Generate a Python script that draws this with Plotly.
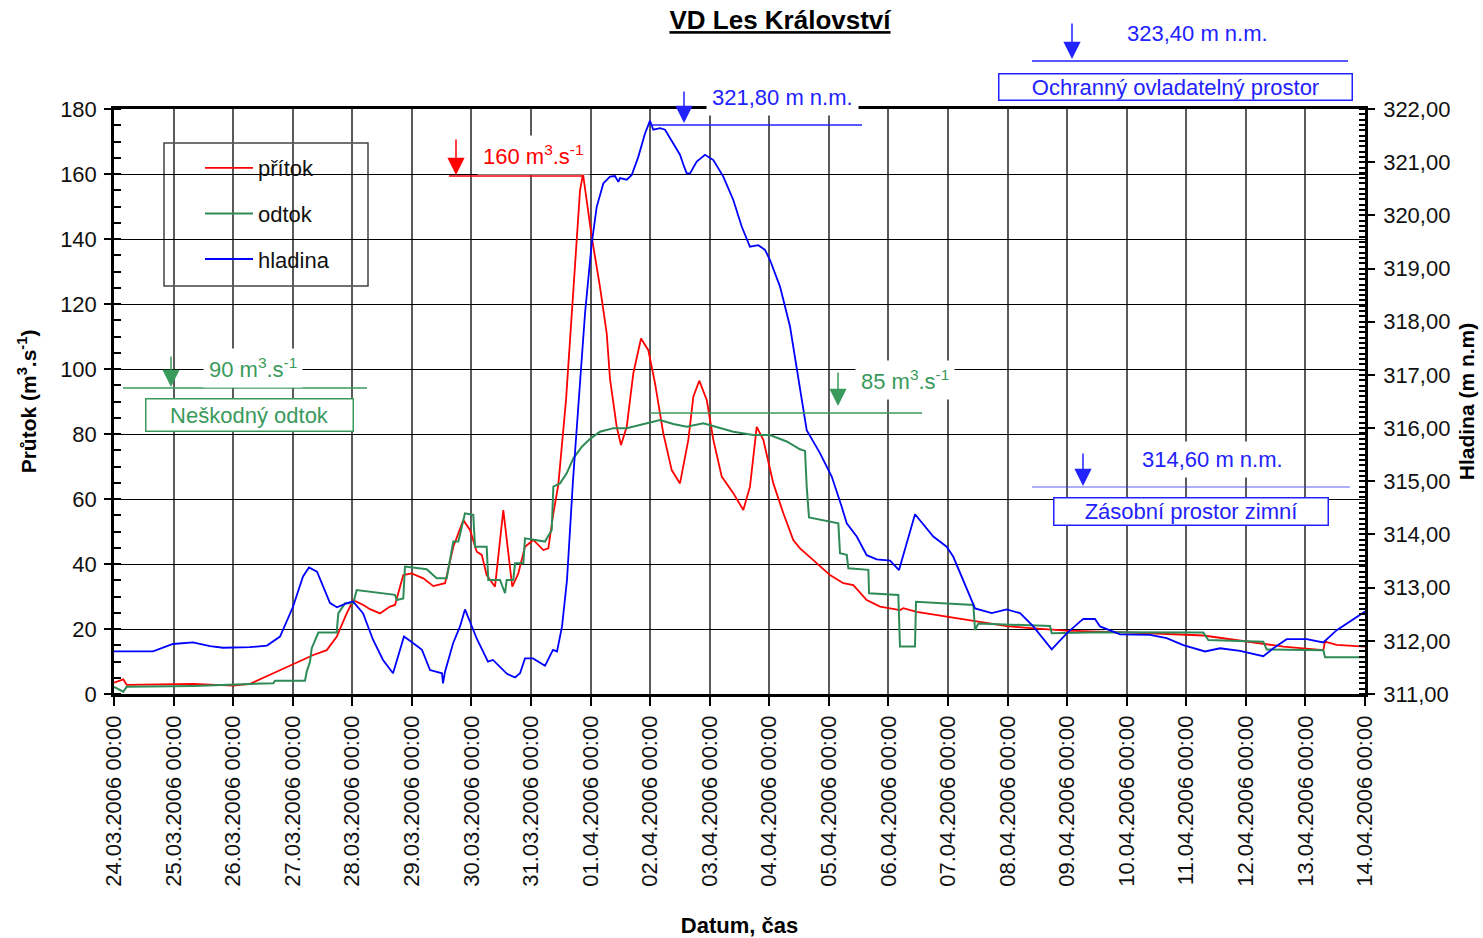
import pandas as pd
import plotly.graph_objects as go

# ---------------- data ----------------
START = pd.Timestamp("2006-03-24 00:00")
END = pd.Timestamp("2006-04-14 00:00")

# přítok (inflow) [m3/s]; time as days since START
pritok_t = [0.0, 0.156, 0.213, 0.885, 1.326, 1.998, 2.283, 2.674, 3.01, 3.346, 3.571, 3.738,
            3.906, 4.017, 4.185, 4.297, 4.465, 4.633, 4.717, 4.856, 4.997, 5.192, 5.36, 5.557,
            5.696, 5.864, 5.976, 6.089, 6.173, 6.256, 6.396, 6.535, 6.686, 6.787, 6.899, 7.039,
            7.207, 7.291, 7.375, 7.458, 7.588, 7.739, 7.823, 7.873, 8.019, 8.158, 8.271, 8.326,
            8.439, 8.511, 8.607, 8.718, 8.847, 8.969, 9.082, 9.221, 9.362, 9.501, 9.641, 9.725,
            9.825, 9.95, 10.061, 10.202, 10.396, 10.564, 10.676, 10.789, 10.9, 11.068, 11.236,
            11.403, 11.516, 11.739, 12.019, 12.243, 12.411, 12.635, 12.859, 13.194, 13.25,
            13.475, 14.034, 14.482, 14.986, 15.432, 15.993, 16.552, 17.111, 17.391, 18.286,
            19.07, 19.629, 20.3, 20.329, 20.525, 20.748, 21.0]
pritok_q = [3.5, 4.5, 2.8, 3.1, 3.1, 2.6, 3.1, 6.4, 9.1, 12.0, 13.5, 17.6,
            24.8, 28.9, 27.4, 26.1, 24.8, 26.9, 27.4, 36.6, 37.1, 35.6, 33.2, 34.1,
            45.3, 53.5, 50.5, 43.8, 42.8, 36.6, 33.0, 56.6, 33.0, 37.1, 45.3, 47.4,
            44.3, 44.8, 55.6, 64.3, 90.5, 133.5, 155.0, 160.0, 140.7, 125.3, 111.0, 97.0,
            82.2, 76.6, 82.2, 98.7, 109.4, 105.8, 95.6, 80.2, 68.9, 64.8, 78.2, 91.5,
            96.4, 90.5, 78.2, 66.9, 61.8, 56.6, 63.8, 82.2, 78.2, 64.8, 55.6,
            47.4, 44.8, 41.2, 36.6, 34.1, 33.5, 28.9, 26.9, 25.8, 26.4,
            25.3, 23.6, 22.2, 20.9, 20.2, 19.5, 19.2, 18.9, 18.7, 18.0,
            16.1, 14.6, 13.5, 16.1, 15.1, 14.8, 14.6]

# odtok (outflow) [m3/s]
odtok_t = [0.0, 0.156, 0.213, 1.331, 2.283, 2.674, 2.703, 3.206, 3.235, 3.29, 3.319, 3.43,
           3.738, 3.765, 3.877, 4.017, 4.074, 4.717, 4.746, 4.856, 4.885, 5.249, 5.417, 5.585,
           5.696, 5.78, 5.892, 6.031, 6.06, 6.256, 6.283, 6.48, 6.564, 6.592, 6.703, 6.732,
           6.871, 6.899, 7.235, 7.348, 7.375, 7.487, 7.599, 7.711, 7.851, 7.991, 8.158, 8.382,
           8.607, 8.83, 9.053, 9.166, 9.389, 9.614, 9.893, 10.117, 10.396, 10.732, 11.012,
           11.292, 11.516, 11.6, 11.628, 11.667, 12.159, 12.187, 12.3, 12.327, 12.663, 12.675,
           13.166, 13.194, 13.446, 13.463, 14.425, 14.454, 14.509, 15.713, 15.741, 16.552,
           17.391, 18.286, 18.37, 19.293, 19.35, 20.3, 20.329, 21.0]
odtok_q = [2.2, 0.7, 2.2, 2.5, 3.1, 3.3, 4.1, 4.1, 6.9, 9.9, 14.1, 18.9,
           18.9, 24.8, 27.9, 27.9, 32.0, 30.5, 28.9, 29.4, 39.2, 38.4, 35.6, 35.6,
           46.9, 46.9, 55.6, 55.1, 45.3, 45.3, 35.1, 35.1, 31.0, 35.1, 35.1, 40.2,
           40.2, 47.9, 46.9, 50.5, 63.8, 64.8, 67.9, 72.5, 76.0, 78.5, 80.7, 81.8,
           81.8, 82.8, 83.8, 84.3, 83.1, 82.2, 83.3, 82.2, 80.7, 79.7, 79.7,
           77.7, 75.3, 74.8, 63.8, 54.3, 52.5, 43.3, 42.8, 38.7, 38.2, 31.0,
           30.5, 14.6, 14.6, 28.4, 27.4, 19.7, 21.7, 20.9, 18.7, 19.0,
           19.0, 18.9, 16.6, 16.1, 13.7, 13.5, 11.3, 11.3]

# hladina (water level) [m n.m.]
hladina_t = [0.0, 0.655, 0.99, 1.326, 1.612, 1.83, 2.283, 2.568, 2.787, 3.005, 3.173, 3.273,
             3.408, 3.626, 3.743, 3.911, 4.012, 4.18, 4.348, 4.516, 4.684, 4.868, 5.019, 5.17,
             5.305, 5.506, 5.523, 5.557, 5.691, 5.808, 5.892, 6.01, 6.094, 6.278, 6.362, 6.597,
             6.732, 6.816, 6.899, 7.034, 7.235, 7.369, 7.437, 7.521, 7.604, 7.705, 7.823, 7.907,
             8.019, 8.103, 8.214, 8.326, 8.41, 8.466, 8.494, 8.607, 8.691, 8.801, 8.914, 8.998,
             9.053, 9.166, 9.25, 9.389, 9.501, 9.569, 9.614, 9.669, 9.782, 9.921, 10.061, 10.228,
             10.396, 10.537, 10.676, 10.816, 10.928, 11.012, 11.18, 11.348, 11.487, 11.628,
             11.851, 12.048, 12.216, 12.3, 12.468, 12.635, 12.803, 13.027, 13.178, 13.446,
             13.753, 13.978, 14.089, 14.257, 14.454, 14.734, 14.986, 15.209, 15.432, 15.741,
             15.993, 16.216, 16.271, 16.468, 16.552, 16.888, 17.391, 17.671, 17.95, 18.315,
             18.566, 18.902, 19.293, 19.461, 19.686, 20.022, 20.3, 20.525, 21.0]
hladina_h = [311.80, 311.80, 311.94, 311.97, 311.90, 311.87, 311.88, 311.91, 312.08, 312.64, 313.21, 313.38,
             313.30, 312.71, 312.63, 312.71, 312.74, 312.52, 312.02, 311.64, 311.39, 312.08, 311.96, 311.83,
             311.45, 311.39, 311.20, 311.42, 311.95, 312.27, 312.59, 312.27, 312.03, 311.61, 311.64, 311.38,
             311.31, 311.39, 311.67, 311.67, 311.53, 311.83, 311.80, 312.27, 313.14, 315.02, 316.90, 318.16,
             319.47, 320.16, 320.60, 320.73, 320.74, 320.63, 320.70, 320.67, 320.76, 321.10, 321.54, 321.78,
             321.61, 321.64, 321.61, 321.36, 321.14, 320.92, 320.79, 320.79, 321.01, 321.14, 321.04, 320.73,
             320.29, 319.79, 319.41, 319.44, 319.35, 319.16, 318.66, 317.91, 316.97, 315.96,
             315.53, 315.09, 314.52, 314.21, 313.96, 313.61, 313.53, 313.51, 313.33, 314.38,
             313.96, 313.77, 313.58, 313.14, 312.61, 312.52, 312.59, 312.52, 312.27, 311.84,
             312.14, 312.36, 312.41, 312.41, 312.27, 312.12, 312.11, 312.05, 311.92, 311.80,
             311.86, 311.81, 311.71, 311.86, 312.03, 312.03, 311.97, 312.20, 312.55]

series_names = ["přítok", "odtok", "hladina"]
series_colors = ["#ff0000", "#2e8b57", "#0000ff"]

# ---------------- styling ----------------
FONT = "Liberation Sans, Arial, sans-serif"
FS = 22
W, H = 1483, 938
ML, MR, MT, MB = 114, 118, 109, 244
PW, PH = W - ML - MR, H - MT - MB

def px(x):  # pixel -> paper x
    return (x - ML) / PW

def py(y):  # pixel -> paper y
    return (H - MB - y) / PH

def to_dates(days):
    return START + pd.to_timedelta(pd.Series(days), unit="D")

fig = go.Figure()
fig.add_trace(go.Scatter(x=to_dates(pritok_t), y=pritok_q, name=series_names[0], mode="lines",
                         line=dict(color=series_colors[0], width=1.8), legendgroup="a"))
fig.add_trace(go.Scatter(x=to_dates(odtok_t), y=odtok_q, name=series_names[1], mode="lines",
                         line=dict(color=series_colors[1], width=2.0), legendgroup="b"))
fig.add_trace(go.Scatter(x=to_dates(hladina_t), y=hladina_h, name=series_names[2], mode="lines",
                         line=dict(color=series_colors[2], width=1.8), yaxis="y2", legendgroup="c"))

RED, GREEN, BLUE, LBLUE = "#ff0000", "#3a9a5c", "#2222ff", "rgba(60,60,255,0.55)"

shapes = []
annotations = []

def hline(x0, x1, y, color, width=1.5):
    shapes.append(dict(type="line", xref="paper", yref="paper", x0=px(x0), x1=px(x1),
                       y0=py(y), y1=py(y), line=dict(color=color, width=width)))

def arrow(x, ytip, ytail, color):
    annotations.append(dict(xref="paper", yref="paper", x=px(x), y=py(ytip), text="",
                            showarrow=True, ax=0, ay=-(ytip - ytail), arrowhead=2,
                            arrowsize=2.3, arrowwidth=1.5, arrowcolor=color, standoff=0))

def label(x, y, text, color, bg=True):
    annotations.append(dict(xref="paper", yref="paper", x=px(x), y=py(y), text=text,
                            showarrow=False, font=dict(size=FS, color=color, family=FONT),
                            bgcolor="white" if bg else None, borderpad=5,
                            xanchor="center", yanchor="middle"))

def boxlabel(x0, y0, x1, y1, text, color):
    annotations.append(dict(xref="paper", yref="paper", x=px((x0 + x1) / 2), y=py((y0 + y1) / 2),
                            text=text, showarrow=False, font=dict(size=FS, color=color, family=FONT),
                            bgcolor="white", bordercolor=color, borderwidth=1.5, borderpad=0,
                            width=x1 - x0 - 3, height=y1 - y0 - 3,
                            xanchor="center", yanchor="middle"))

SUP = "m<sup>3</sup>.s<sup>-1</sup>"

# 160 m3/s peak inflow
hline(449, 583, 176, RED)
label(533, 155, "160 " + SUP, RED)
arrow(456, 175, 138, RED)

# 321,80 max level
hline(650, 862, 125, BLUE)
label(782, 97, "321,80 m n.m.", BLUE)
arrow(684, 123, 90, BLUE)

# 323,40 top of flood control
hline(1032, 1348, 61, BLUE)
label(1197, 33, "323,40 m n.m.", BLUE, bg=False)
arrow(1072, 59, 22, BLUE)
boxlabel(998, 73, 1353, 101, "Ochranný ovladatelný prostor", BLUE)

# 90 m3/s harmless outflow
hline(123, 367, 388, GREEN)
label(253, 368, "90 " + SUP, GREEN)
arrow(171, 387, 355, GREEN)
boxlabel(145, 398, 354, 432, "Neškodný odtok", GREEN)

# 85 m3/s max outflow
hline(650, 922, 413, GREEN)
label(905, 380, "85 " + SUP, GREEN)
arrow(838, 406, 371, GREEN)

# 314,60 winter storage
hline(1032, 1350, 487, LBLUE)
label(1212, 459, "314,60 m n.m.", BLUE)
arrow(1083, 486, 452, BLUE)
boxlabel(1053, 497, 1329, 526, "Zásobní prostor zimní", BLUE)

# legend frame
shapes.append(dict(type="rect", xref="paper", yref="paper", x0=px(164), x1=px(368),
                   y0=py(286), y1=py(143), line=dict(color="#444444", width=1.5),
                   fillcolor="white", layer="below"))

fig.update_layout(
    width=W, height=H,
    margin=dict(l=ML, r=MR, t=MT, b=MB, pad=0, autoexpand=False),
    paper_bgcolor="white", plot_bgcolor="white",
    separators=", ",
    font=dict(family=FONT, size=FS, color="#111111"),
    title=dict(text="<b><u>VD Les Království</u></b>", x=780 / W, y=1 - 20 / H,
               xref="container", yref="container", xanchor="center", yanchor="middle",
               font=dict(size=26, color="black", family=FONT)),
    showlegend=True,
    legend=dict(x=px(200), y=py(147), xanchor="left", yanchor="top",
                bgcolor="rgba(0,0,0,0)", borderwidth=0, tracegroupgap=14,
                itemwidth=48,
                font=dict(size=FS, color="#111111", family=FONT)),
    xaxis=dict(type="date", range=[START, END], dtick=86400000, tick0=START,
               tickformat="%d.%m.%Y %H:%M", tickangle=-90, automargin=False,
               ticks="outside", ticklen=9, tickwidth=2, tickcolor="black",
               showline=True, linewidth=2.5, linecolor="black", mirror=True,
               showgrid=True, gridcolor="#5a5a5a", gridwidth=2, zeroline=False,
               ticklabelstandoff=1,
               tickfont=dict(size=FS, color="#111111"),
               title=dict(text="<b>Datum, čas</b>", standoff=34,
                          font=dict(size=FS, color="black"))),
    yaxis=dict(range=[0, 180], dtick=20, ticks="outside", ticklen=7, tickwidth=2,
               tickcolor="black", showline=True, linewidth=2.5, linecolor="black",
               showgrid=True, gridcolor="black", gridwidth=1.3, zeroline=False,
               ticklabelstandoff=3, automargin=False,
               minor=dict(dtick=5, ticks="inside", ticklen=7, tickwidth=1.5,
                          tickcolor="black", showgrid=False),
               tickfont=dict(size=FS, color="#111111"),
               title=dict(text="<b>Průtok (m<sup>3</sup>.s<sup>-1</sup>)</b>", standoff=18,
                          font=dict(size=FS - 1, color="black"))),
    yaxis2=dict(overlaying="y", side="right", range=[311, 322], dtick=1, tickformat=".2f",
                ticks="outside", ticklen=7, tickwidth=2, tickcolor="black",
                showline=True, linewidth=2.5, linecolor="black", showgrid=False,
                zeroline=False, ticklabelstandoff=4, automargin=False,
                minor=dict(dtick=0.1, ticks="inside", ticklen=6, tickwidth=1.5,
                           tickcolor="black", showgrid=False),
                tickfont=dict(size=FS, color="#111111"),
                title=dict(text="<b>Hladina (m n.m)</b>", standoff=10,
                           font=dict(size=FS - 1, color="black"))),
    shapes=shapes,
    annotations=annotations,
)

fig.write_html("out.html", config={"displayModeBar": False},
               post_script="document.body.style.margin='0';document.body.style.overflow='hidden';")
